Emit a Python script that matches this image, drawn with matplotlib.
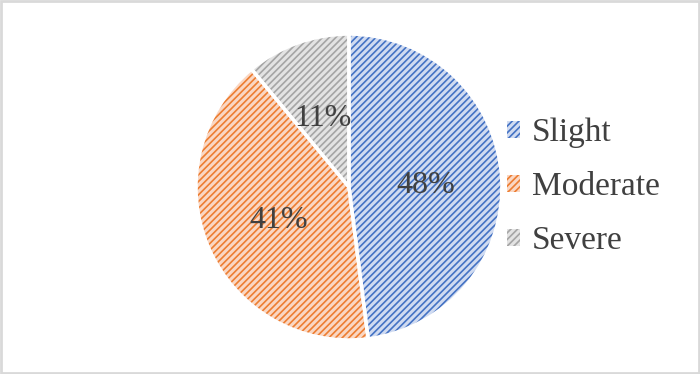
import matplotlib.pyplot as plt
from matplotlib.patches import Rectangle

# data
labels = ['Slight', 'Moderate', 'Severe']
values = [48, 41, 11]
line_colors = ['#4472C4', '#ED7D31', '#A5A5A5']
face_colors = ['#D0DBF1', '#FAD7C3', '#E3E3E3']

plt.rcParams['font.family'] = ['Liberation Serif', 'DejaVu Serif']
plt.rcParams['hatch.linewidth'] = 1.2

fig = plt.figure(figsize=(7, 3.74), dpi=100)
ax = fig.add_axes([0.28, 0.0909, 0.437, 0.818])

# hatched fill: hatch takes the edge colour, so draw edges separately
wedges, texts, autotexts = ax.pie(values, startangle=90, counterclock=False,
                                  colors=face_colors, autopct='%1.0f%%',
                                  pctdistance=0.5,
                                  textprops=dict(fontsize=23, color='#404040'),
                                  wedgeprops=dict(linewidth=0))
for w, c in zip(wedges, line_colors):
    w.set_edgecolor(c)
    w.set_hatch('/////')
for t in autotexts:
    t.set_va('center_baseline')

ax.pie(values, startangle=90, counterclock=False,
       wedgeprops=dict(fill=False, edgecolor='white', linewidth=2.5))
ax.set_xlim(-1, 1)
ax.set_ylim(-1, 1)
ax.set_aspect('equal')

leg = ax.legend(wedges, labels, loc='center left',
                bbox_to_anchor=(0.7, 0.5), bbox_transform=fig.transFigure,
                frameon=False, fontsize=24, handlelength=0.4, handleheight=0.4,
                handletextpad=0.35, labelspacing=0.7, borderpad=0)
for t in leg.get_texts():
    t.set_color('#404040')

fig.patches.append(Rectangle((0.002, 0.003), 0.996, 0.994, transform=fig.transFigure,
                             fill=False, edgecolor='#D9D9D9', linewidth=2))

fig.savefig('out.png', dpi=100)
